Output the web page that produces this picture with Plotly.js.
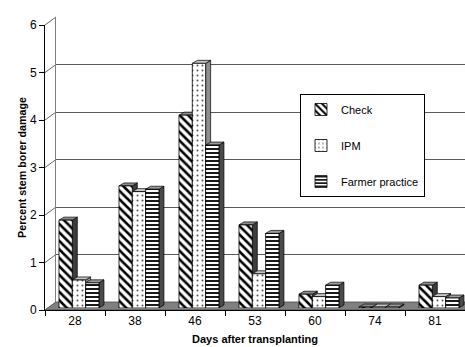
<!DOCTYPE html>
<html><head><meta charset="utf-8">
<script src="https://cdn.plot.ly/plotly-3.0.1.min.js"></script>
<style>html,body{margin:0;padding:0;background:#fff}</style>
</head><body><div id="chart" style="width:465px;height:347px"></div>
<script>
// ---- data ----
const days = ['28', '38', '46', '53', '60', '74', '81'];
const checkVals  = [1.85, 2.57, 4.06, 1.75, 0.29, 0.02, 0.48];
const ipmVals    = [0.59, 2.45, 5.15, 0.72, 0.24, 0.02, 0.24];
const farmerVals = [0.53, 2.50, 3.43, 1.57, 0.48, 0.02, 0.21];
const seriesNames = ['Check', 'IPM', 'Farmer practice'];
const yTickVals = [0, 1, 2, 3, 4, 5, 6];

// ---- geometry / style ----
const W = 465, H = 347;
const M = {l: 45, r: 0, t: 17, b: 37};
const PW = W - M.l - M.r, PH = H - M.t - M.b;
const YMAX = 6;
const FRONT_H = 285;           // px span of the 0..6 front axis
const WALL_DX = 11, WALL_DY = 8; // depth of floor / side wall
const BAR_LIFT = 2;            // bars sit slightly back
const BAR_DX = 5, BAR_DY = 3;  // bar depth
const nCat = days.length;
const pxPerCat = PW / nCat;
const pxPerUnit = FRONT_H / YMAX;
const barW = 0.222;
const barOffsets = [-0.267, -0.045, 0.177];
const font = 'Arial, "Liberation Sans", sans-serif';

const series = [checkVals, ipmVals, farmerVals];
const patterns = [
  {shape: '\\', fgcolor: '#000', bgcolor: '#fff', size: 6, solidity: 0.42},
  {shape: '.', fgcolor: '#555', bgcolor: '#fff', size: 5, solidity: 0.12},
  {shape: '-', fgcolor: '#000', bgcolor: '#fff', size: 4, solidity: 0.45}
];
const sideColors = ['#3c3c3c', '#8e8e8e', '#4a4a4a'];
const topColors  = ['#8c8c8c', '#c4c4c4', '#9c9c9c'];

const xIdx = days.map((d, i) => i);

// helper (invisible) traces so the wall and front-axis subplots get drawn
const helper = (xa, ya) => ({type: 'scatter', mode: 'markers', x: [0], y: [0], xaxis: xa, yaxis: ya,
  marker: {opacity: 0, size: 1}, showlegend: false, hoverinfo: 'skip'});

const traces = [helper('x', 'y'), helper('x2', 'y2')].concat(series.map((vals, j) => ({
  type: 'bar',
  name: seriesNames[j],
  x: xIdx, y: vals,
  xaxis: 'x3', yaxis: 'y3',
  width: barW, offset: barOffsets[j],
  marker: {color: '#fff', line: {color: '#000', width: 0.8}, pattern: patterns[j]},
  legendgroup: 'g' + j,
  hoverinfo: 'skip'
})));

// ---- shapes ----
const shapes = [];
const fx = WALL_DX / PW, fy = WALL_DY / PH;
shapes.push({type: 'path', xref: 'paper', yref: 'paper', layer: 'below',
  path: `M0,0 L1,0 L${1 + fx},${fy} L${fx},${fy} Z`,
  fillcolor: '#808080', line: {color: '#4a4a4a', width: 0.8}});
const frontTop = FRONT_H / PH;
yTickVals.forEach(v => {
  const y0 = v / YMAX * frontTop;
  shapes.push({type: 'line', xref: 'paper', yref: 'paper', layer: 'below',
    x0: 0, x1: fx, y0: y0, y1: y0 + fy, line: {color: '#666', width: 1}});
});
const dx = BAR_DX / pxPerCat, dy = BAR_DY / pxPerUnit;
series.forEach((vals, j) => {
  vals.forEach((v, i) => {
    const xl = i + barOffsets[j], xr = xl + barW;
    shapes.push({type: 'path', xref: 'x3', yref: 'y3', layer: 'between',
      path: `M${xr},0 L${xr + dx},${dy} L${xr + dx},${v + dy} L${xr},${v} Z`,
      fillcolor: sideColors[j], line: {color: '#000', width: 0.7}});
    shapes.push({type: 'path', xref: 'x3', yref: 'y3', layer: 'between',
      path: `M${xl},${v} L${xr},${v} L${xr + dx},${v + dy} L${xl + dx},${v + dy} Z`,
      fillcolor: topColors[j], line: {color: '#000', width: 0.7}});
  });
});

const layout = {
  width: W, height: H,
  margin: M,
  paper_bgcolor: '#fff', plot_bgcolor: 'rgba(0,0,0,0)',
  font: {family: font, size: 12, color: '#000'},
  barmode: 'overlay',
  showlegend: true,
  legend: {x: (300 - M.l) / PW, y: (H - M.b - 94) / PH, xanchor: 'left', yanchor: 'top',
    bgcolor: '#fff', bordercolor: '#000', borderwidth: 1,
    font: {family: font, size: 11, color: '#000'},
    traceorder: 'grouped', tracegroupgap: 17},
  xaxis: {domain: [fx, 1], range: [-0.5, nCat - 0.5 - WALL_DX / pxPerCat], anchor: 'y',
    showgrid: false, zeroline: false, showline: false, showticklabels: false, ticks: '', fixedrange: true},
  yaxis: {domain: [fy, 1], range: [0, YMAX], anchor: 'x', tickmode: 'array', tickvals: yTickVals,
    showgrid: true, gridcolor: '#5a5a5a', gridwidth: 1, zeroline: false,
    showline: true, linecolor: '#808080', linewidth: 1, showticklabels: false, ticks: '', fixedrange: true},
  xaxis2: {domain: [0, 1], range: [-0.5, nCat - 0.5], anchor: 'y2',
    tickmode: 'array', tickvals: xIdx, ticktext: days, ticks: '',
    minor: {tickmode: 'array', tickvals: xIdx.map(i => i - 0.5).concat([nCat - 0.5]),
      ticks: 'outside', ticklen: 5, tickcolor: '#000', tickwidth: 1, showgrid: false},
    showgrid: false, zeroline: false, showline: true, linecolor: '#000', linewidth: 1,
    tickfont: {family: font, size: 12, color: '#000'},
    title: {text: '<b>Days after transplanting</b>', font: {family: font, size: 11, color: '#000'}, standoff: 7},
    fixedrange: true},
  yaxis2: {domain: [0, frontTop], range: [0, YMAX], anchor: 'x2',
    tickmode: 'array', tickvals: yTickVals, ticks: 'outside', ticklen: 5, tickcolor: '#000',
    showgrid: false, zeroline: false, showline: true, linecolor: '#000', linewidth: 1,
    tickfont: {family: font, size: 12, color: '#000'},
    title: {text: '<b>Percent stem borer damage</b>', font: {family: font, size: 10.7, color: '#000'}, standoff: 1},
    fixedrange: true},
  xaxis3: {domain: [0, 1], range: [-0.5, nCat - 0.5], anchor: 'y3', visible: false, fixedrange: true},
  yaxis3: {domain: [BAR_LIFT / PH, (BAR_LIFT + FRONT_H) / PH], range: [0, YMAX], anchor: 'x3', visible: false, fixedrange: true},
  shapes: shapes
};

Plotly.newPlot('chart', traces, layout, {displayModeBar: false, staticPlot: true});
</script>
</body></html>
